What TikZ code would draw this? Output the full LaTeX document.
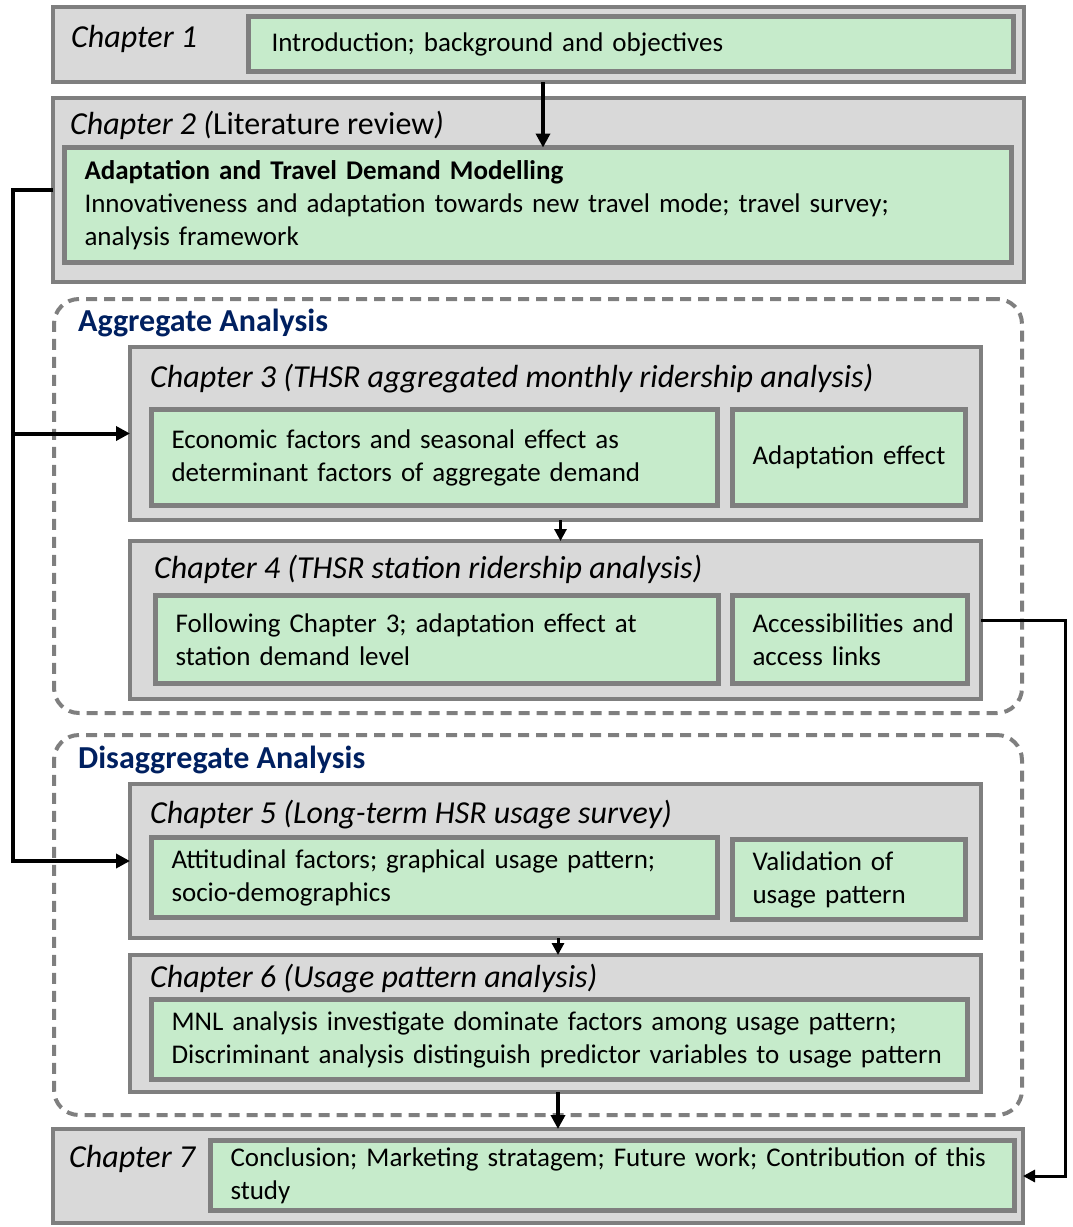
\documentclass[tikz,border=0pt]{standalone}
\usepackage{fontspec}
\setmainfont{Carlito}
\usepackage{xcolor}
\usetikzlibrary{arrows.meta,positioning}

\definecolor{edgegray}{HTML}{7F7F7F}
\definecolor{chapfill}{HTML}{D9D9D9}
\definecolor{cellfill}{HTML}{C6EBCB}
\definecolor{grpblue}{HTML}{002060}

\begin{document}
\begin{tikzpicture}[
  x=1pt, y=-1pt,
  font=\fontsize{27}{33}\selectfont,
  chap/.style  ={draw=edgegray, fill=chapfill, line width=4pt, anchor=north west,
                 inner sep=0pt, outer sep=0pt},
  cell/.style  ={draw=edgegray, fill=cellfill, line width=5pt, anchor=north west,
                 inner xsep=20pt, inner ysep=0pt, outer sep=0pt, align=left},
  ctitle/.style={anchor=base west, inner sep=0pt, font=\fontsize{32}{36}\selectfont\itshape},
  grp/.style   ={draw=edgegray, dash pattern=on 11pt off 7pt, line width=4pt,
                 rounded corners=25pt, anchor=north west, inner sep=0pt, outer sep=0pt},
  gtitle/.style={anchor=base west, inner sep=0pt, text=grpblue,
                 font=\fontsize{32}{36}\selectfont\bfseries},
  ar/.style    ={-{Triangle[length=14pt,width=14pt]}, line width=4pt},
  arr/.style   ={-{Triangle[length=12pt,width=12pt]}, line width=3pt}
]
\useasboundingbox (0,0) rectangle (1072,1227);

% analysis groups
\node[grp, minimum width=968pt, minimum height=414pt] (agg) at (54,299) {};
\node[grp, minimum width=968pt, minimum height=380pt] (dis) at (54,735) {};
\node[gtitle] (aggt) at (78,331) {Aggregate Analysis};
\node[gtitle] (dist) at (78,768) {Disaggregate Analysis};

% chapter boxes
\node[chap, minimum width=971pt, minimum height=75pt]  (ch1) at (53,7) {};
\node[chap, minimum width=971pt, minimum height=184pt] (ch2) at (53,98) {};
\node[chap, minimum width=851pt, minimum height=173pt] (ch3) at (130,347) {};
\node[chap, minimum width=851pt, minimum height=158pt] (ch4) at (130,541) {};
\node[chap, minimum width=851pt, minimum height=154pt] (ch5) at (130,784) {};
\node[chap, minimum width=851pt, minimum height=137pt] (ch6) at (130,955) {};
\node[chap, minimum width=970pt, minimum height=94pt]  (ch7) at (53,1129) {};

\node[ctitle] (t1) at (71,47)   {Chapter 1};
\node[ctitle] (t2) at (70,134)  {Chapter 2 (\upshape Literature review\itshape)};
\node[ctitle] (t3) at (150,387) {Chapter 3 (THSR aggregated monthly ridership analysis)};
\node[ctitle] (t4) at (154,578) {Chapter 4 (THSR station ridership analysis)};
\node[ctitle] (t5) at (150,823) {Chapter 5 (Long-term HSR usage survey)};
\node[ctitle] (t6) at (150,987) {Chapter 6 (Usage pattern analysis)};
\node[ctitle] (t7) at (69,1167) {Chapter 7};

% content cells
\node[cell, minimum width=765pt, minimum height=55pt, text width=725pt] (c1) at (248.5,16.5)
  {\hspace{3pt}Introduction; background and objectives};
\node[cell, minimum width=947pt, minimum height=115pt, text width=907pt] (c2) at (64.5,147.5)
  {\textbf{Adaptation and Travel Demand Modelling}\\
   Innovativeness and adaptation towards new travel mode; travel survey;\\
   analysis framework};
\node[cell, minimum width=566pt, minimum height=96pt, text width=526pt] (c3a) at (151.5,409.5)
  {Economic factors and seasonal effect as\\determinant factors of aggregate demand};
\node[cell, minimum width=233pt, minimum height=96pt, text width=193pt] (c3b) at (732.5,409.5)
  {Adaptation~effect};
\node[cell, minimum width=563pt, minimum height=88pt, text width=523pt] (c4a) at (155.5,595.5)
  {Following Chapter 3; adaptation effect at\\station demand level};
\node[cell, minimum width=235pt, minimum height=88pt, text width=195pt] (c4b) at (732.5,595.5)
  {Accessibilities~and\\access links};
\node[cell, minimum width=566pt, minimum height=80pt, text width=526pt] (c5a) at (151.5,837.5)
  {Attitudinal factors; graphical usage pattern;\\socio-demographics};
\node[cell, minimum width=233pt, minimum height=80pt, text width=193pt] (c5b) at (732.5,839.5)
  {Validation of\\usage pattern};
\node[cell, minimum width=816pt, minimum height=80pt, text width=776pt] (c6) at (151.5,999.5)
  {MNL analysis investigate dominate factors among usage pattern;\\
   Discriminant analysis distinguish predictor variables to usage pattern};
\node[cell, minimum width=804pt, minimum height=70pt, text width=764pt] (c7) at (210.5,1140.5)
  {Conclusion; Marketing stratagem; Future work; Contribution of this\\study};

% flow
\draw[ar] ([xshift=4.5pt]ch1.south) -- ([xshift=4.5pt]ch1.south |- c2.north);
\draw[arr] ([xshift=5pt]ch3.south) -- ([xshift=5pt]ch3.south |- ch4.north);
\draw[arr] ([xshift=2.5pt]ch5.south) -- ([xshift=2.5pt]ch5.south |- ch6.north);
\draw[ar] ([xshift=2.5pt]ch6.south) -- ([xshift=2.5pt]ch6.south |- ch7.north);
\draw[ar] (ch2.west) -- ++(-40,0) |- (ch3.west);
\draw[ar] (ch2.west) -- ++(-40,0) |- (ch5.west);
\draw[arr] (ch4.east) -- ++(84,0) |- (ch7.east);

\end{tikzpicture}
\end{document}
